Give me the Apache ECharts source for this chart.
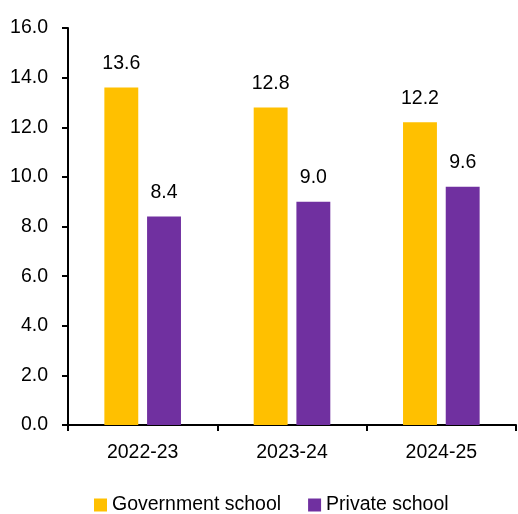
<!DOCTYPE html>
<html><head><meta charset="utf-8">
<script src="https://cdn.jsdelivr.net/npm/echarts@6/dist/echarts.min.js"></script>
<style>html,body{margin:0;padding:0;background:#fff}#c{width:518px;height:514px}</style>
</head><body><div id="c"></div>
<script>
const categories = ['2022-23', '2023-24', '2024-25'];
const governmentSchool = [13.6, 12.8, 12.2];
const privateSchool = [8.4, 9.0, 9.6];
const seriesNames = ['Government school', 'Private school'];
const font = '"Liberation Sans", Arial, sans-serif';
const fs = 19.5;
const chart = echarts.init(document.getElementById('c'));
chart.setOption({
  animation: false,
  grid: { left: 68, right: 2, top: 28, bottom: 89 },
  legend: {
    top: 495, left: 94, padding: 0, itemWidth: 13, itemHeight: 13, itemGap: 27,
    icon: 'rect',
    textStyle: { fontFamily: font, fontSize: fs, color: '#000' }
  },
  xAxis: {
    type: 'category', data: categories,
    axisLine: { lineStyle: { color: '#000', width: 2 } },
    axisTick: { show: true, length: 6, lineStyle: { color: '#000', width: 2 } },
    axisLabel: { fontFamily: font, fontSize: fs, color: '#000', margin: 18 }
  },
  yAxis: {
    type: 'value', min: 0, max: 16, interval: 2,
    axisLine: { show: true, lineStyle: { color: '#000', width: 2 } },
    axisTick: { show: true, length: 6, lineStyle: { color: '#000', width: 2 } },
    splitLine: { show: false },
    axisLabel: { fontFamily: font, fontSize: fs, color: '#000', margin: 20, formatter: v => v.toFixed(1) }
  },
  series: [
    { name: seriesNames[0], type: 'bar', data: governmentSchool, barWidth: '22.7%', barGap: '26%',
      itemStyle: { color: '#FFC000' },
      label: { show: true, position: 'top', distance: 14, fontFamily: font, fontSize: fs, color: '#000', formatter: p => p.value.toFixed(1) } },
    { name: seriesNames[1], type: 'bar', data: privateSchool, barWidth: '22.7%', barGap: '26%',
      itemStyle: { color: '#7030A0' },
      label: { show: true, position: 'top', distance: 14, fontFamily: font, fontSize: fs, color: '#000', formatter: p => p.value.toFixed(1) } }
  ]
});
</script></body></html>
